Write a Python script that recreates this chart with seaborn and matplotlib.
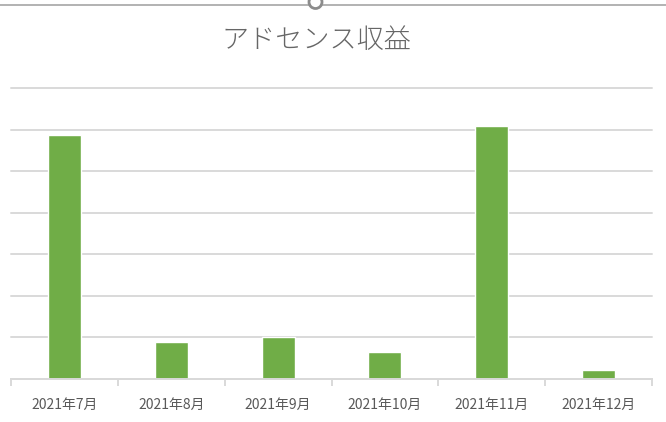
import matplotlib
matplotlib.use("Agg")
import matplotlib.pyplot as plt
import seaborn as sns
import pandas as pd
from matplotlib.patches import Circle
from matplotlib.lines import Line2D

months = ["2021年7月", "2021年8月", "2021年9月", "2021年10月", "2021年11月", "2021年12月"]
revenue = [5.87, 0.87, 0.99, 0.63, 6.09, 0.20]
title = "アドセンス収益"

sns.set_theme(style="white")
plt.rcParams['font.family'] = ['Noto Sans CJK JP', 'DejaVu Sans']

df = pd.DataFrame({"month": months, "revenue": revenue})

fig = plt.figure(figsize=(6.66, 4.22), dpi=100)
ax = fig.add_axes([11/666, 1 - 378.5/422, (652 - 11)/666, (378.5 - 88)/422])

sns.barplot(data=df, x="month", y="revenue", color="#70AD47", saturation=1,
            width=0.31, ax=ax)

ax.set_ylim(0, 7)
ax.set_xlim(-0.5, len(months) - 0.5)
ax.set_yticks(range(0, 8))
ax.yaxis.grid(True, color="#D9D9D9", linewidth=1.4)
for gl in ax.get_ygridlines():
    gl.set_clip_on(False)
ax.set_axisbelow(True)
ax.set_yticklabels([])
ax.tick_params(axis="y", length=0)
for s in ["top", "right", "left"]:
    ax.spines[s].set_visible(False)
ax.spines["bottom"].set_color("#D9D9D9")
ax.spines["bottom"].set_linewidth(1.4)
ax.set_xlabel("")
ax.set_ylabel("")
ax.set_xticks([i - 0.5 for i in range(len(months) + 1)], minor=True)
ax.tick_params(axis="x", which="minor", length=5, width=1.4, color="#D9D9D9", bottom=True)
ax.tick_params(axis="x", which="major", length=0, pad=14, labelsize=10, labelcolor="#595959")

fig.text(316/666, 1 - 40/422, title, ha="center", va="center", fontsize=19.5,
         color="#666666", fontweight="light")

# selection frame line at the top
fig.add_artist(Line2D([0, 1], [1 - 4.5/422, 1 - 4.5/422], color="#A6A6A6", linewidth=1.2,
                      transform=fig.transFigure))
fig.add_artist(Circle((3.155, 4.22 - 0.02), 0.065, transform=fig.dpi_scale_trans,
                      facecolor="white", edgecolor="#8C8C8C", linewidth=2.0,
                      zorder=10))

fig.savefig("out.png", dpi=100)
